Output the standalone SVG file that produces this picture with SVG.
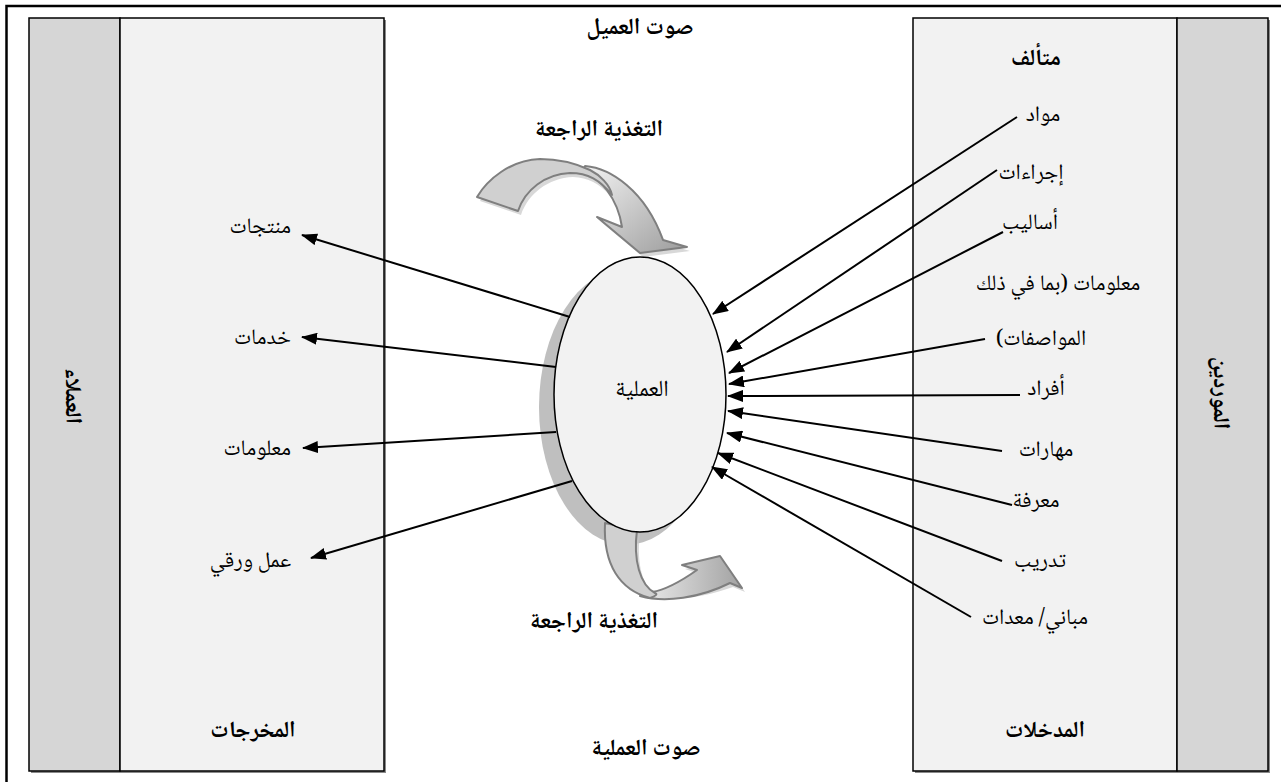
<svg xmlns="http://www.w3.org/2000/svg" width="1281" height="782" viewBox="0 0 1281 782">
  <defs>
    <style>
      .frame { stroke: #000; stroke-width: 2.5; fill: none; }
      .band { fill: #d6d6d6; stroke: #000; stroke-width: 1.5; }
      .panel { fill: #f2f2f2; stroke: #000; stroke-width: 1.5; }
      .pshadow { fill: #8a8a8a; }
      .t { font-family: "Noto Naskh Arabic", "Noto Sans Arabic", "DejaVu Sans", sans-serif; font-size: 22px; fill: #000; text-anchor: middle; direction: rtl; unicode-bidi: embed; }
      .b { font-weight: bold; font-size: 23px; }
      .conn { stroke: #000; stroke-width: 2; fill: none; marker-end: url(#head); }
      .fb { stroke: #7f7f7f; stroke-width: 2; stroke-linejoin: round; }
      .fbshadow { fill: #c8c8c8; opacity: 0.7; }
    </style>
    <marker id="head" viewBox="0 0 16 12" refX="15" refY="6" markerWidth="16" markerHeight="12" markerUnits="userSpaceOnUse" orient="auto">
      <path d="M0,0 L16,6 L0,12 Z" fill="#000"/>
    </marker>
    <linearGradient id="gTop" x1="0" y1="0" x2="1" y2="1">
      <stop offset="0" stop-color="#f4f4f4"/>
      <stop offset="1" stop-color="#9c9c9c"/>
    </linearGradient>
    <linearGradient id="gBot" x1="0" y1="0" x2="1" y2="0">
      <stop offset="0" stop-color="#ececec"/>
      <stop offset="1" stop-color="#a2a2a2"/>
    </linearGradient>
  </defs>

  <!-- page frame (top and left rules) -->
  <path class="frame" d="M6.5,782 L6.5,6 L1281,6"/>

  <!-- customers column -->
  <g id="customers">
    <rect class="pshadow" x="31" y="20" width="91" height="753"/>
    <rect class="band" x="29" y="18" width="91" height="753"/>
    <text class="t b" transform="translate(74,396) rotate(90)" y="8">العملاء</text>
  </g>

  <!-- outputs panel -->
  <g id="outputs">
    <rect class="pshadow" x="122" y="20" width="264" height="753"/>
    <rect class="panel" x="120" y="18" width="264" height="753"/>
    <text class="t" x="291" y="233" style="text-anchor:start">منتجات</text>
    <text class="t" x="291" y="344" style="text-anchor:start">خدمات</text>
    <text class="t" x="291" y="455" style="text-anchor:start">معلومات</text>
    <text class="t" x="291" y="567" style="text-anchor:start">عمل ورقي</text>
    <text class="t b" x="253" y="737">المخرجات</text>
  </g>

  <!-- inputs panel -->
  <g id="inputs">
    <rect class="pshadow" x="915" y="20" width="264" height="753"/>
    <rect class="panel" x="913" y="18" width="264" height="753"/>
    <text class="t b" x="1036" y="65">متألف</text>
    <text class="t" x="1043" y="121">مواد</text>
    <text class="t" x="1031" y="179">إجراءات</text>
    <text class="t" x="1030" y="229">أساليب</text>
    <text class="t" x="1058" y="290">معلومات (بما في ذلك</text>
    <text class="t" x="1041" y="345">المواصفات)</text>
    <text class="t" x="1046" y="395">أفراد</text>
    <text class="t" x="1046" y="456">مهارات</text>
    <text class="t" x="1036" y="507">معرفة</text>
    <text class="t" x="1040" y="567">تدريب</text>
    <text class="t" x="1035" y="624">مباني/ معدات</text>
    <text class="t b" x="1045" y="737">المدخلات</text>
  </g>

  <!-- suppliers column -->
  <g id="suppliers">
    <rect class="pshadow" x="1179" y="20" width="91" height="753"/>
    <rect class="band" x="1177" y="18" width="91" height="753"/>
    <text class="t b" transform="translate(1222,393) rotate(90)" y="8">الموردين</text>
  </g>

  <!-- voice labels -->
  <g id="voice-customer">
    <text class="t b" x="640" y="34">صوت العميل</text>
  </g>
  <g id="voice-process">
    <text class="t b" x="646" y="755">صوت العملية</text>
  </g>

  <!-- feedback loop, upper -->
  <g id="feedback-top">
    <text class="t b" x="599" y="136">التغذية الراجعة</text>
    <path class="fbshadow" transform="translate(3,4)" d="M477,197 C487,180 510,160 540,159 C590,158 645,190 663,240 L687,247 L640,253 L597,217 L622,227 C618,200 600,174 570,173 C545,174 525,190 518,211 Z"/>
    <path class="fb" fill="url(#gTop)" d="M580,173 C600,174 618,200 622,227 L597,217 L640,253 L687,247 L663,240 C645,190 610,168 585,166 Z"/>
    <path class="fb" fill="#d0d0d0" d="M477,197 C487,180 510,160 540,159 C560,159 575,163 590,170 C600,175 610,185 612,195 C600,180 588,173 570,173 C545,174 525,190 518,211 Z"/>
  </g>

  <!-- process node shadow -->
  <g id="process">
    <ellipse cx="626" cy="407" rx="87" ry="138" fill="#bfbfbf"/>
  </g>

  <!-- feedback loop, lower -->
  <g id="feedback-bottom">
    <path class="fbshadow" transform="translate(3,4)" d="M605,523 C603,580 650,612 730,583 L742,588 L720,556 L682,565 L697,570 C680,582 665,592 655,593 C640,585 633,560 637,530 Z"/>
    <path class="fb" fill="url(#gBot)" d="M640,596 C665,603 700,598 730,583 L742,588 L720,556 L682,565 L697,570 C680,582 665,590 652,592 Z"/>
    <path class="fb" fill="#d0d0d0" d="M605,523 C603,565 620,590 650,598 C656,596 658,594 655,593 C640,585 633,560 637,530 Z"/>
    <text class="t b" x="594" y="628">التغذية الراجعة</text>
  </g>

  <!-- process node body -->
  <g id="process-body">
    <ellipse cx="640" cy="394.5" rx="86" ry="137.5" fill="#f2f2f2" stroke="#000" stroke-width="1.5"/>
    <text class="t" x="642" y="396" style="font-size:23px">العملية</text>
  </g>

  <!-- connectors -->
  <g id="connectors">
    <path class="conn" d="M570,317 L302,235"/>
    <path class="conn" d="M556,367 L302,337"/>
    <path class="conn" d="M556,432 L303,448"/>
    <path class="conn" d="M572,481 L311,558"/>
    <path class="conn" d="M1017,117 L713,314"/>
    <path class="conn" d="M997,170 L727,352"/>
    <path class="conn" d="M1003,232 L729,373"/>
    <path class="conn" d="M985,339 L729,384"/>
    <path class="conn" d="M1020,395 L728,396"/>
    <path class="conn" d="M1002,451 L728,411"/>
    <path class="conn" d="M1012,505 L727,433"/>
    <path class="conn" d="M1002,561 L718,453"/>
    <path class="conn" d="M971,617 L712,467"/>
  </g>
</svg>
